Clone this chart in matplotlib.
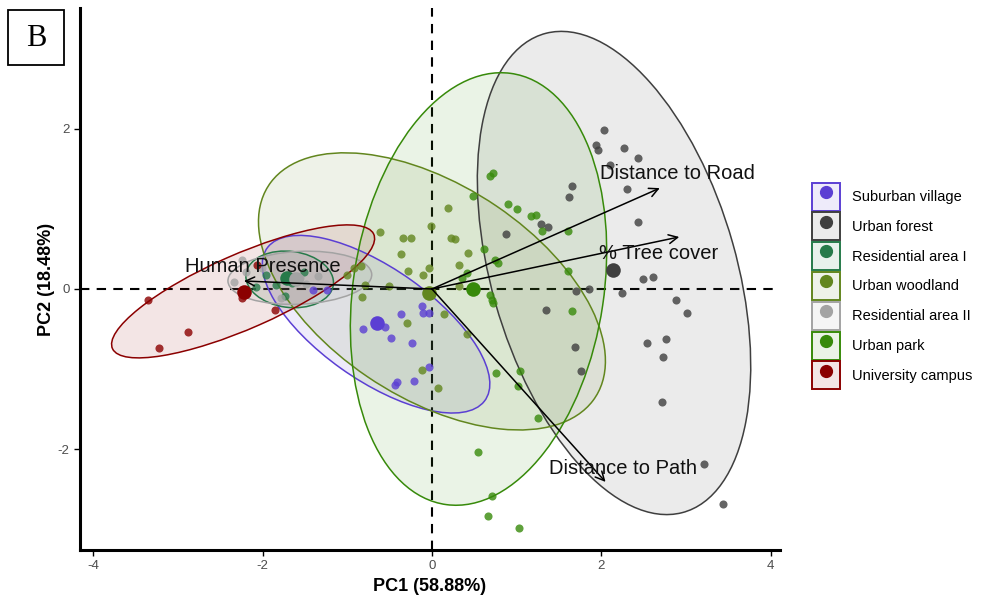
import numpy as np
import matplotlib
matplotlib.use('Agg')
import matplotlib.pyplot as plt
from matplotlib.patches import Ellipse, Rectangle
from matplotlib.lines import Line2D
from matplotlib.legend_handler import HandlerTuple

plt.rcParams['font.family'] = ['Liberation Sans', 'DejaVu Sans']
plt.rcParams['axes.unicode_minus'] = False

groups = ['Suburban village', 'Urban forest', 'Residential area I', 'Urban woodland',
          'Residential area II', 'Urban park', 'University campus']
colors = ['#5B3FD3', '#3F3F3F', '#267A4A', '#62861E', '#A3A3A3', '#378A0A', '#8B0000']

# individual scores (PC1, PC2) per site type
suburban_pc1 = [-0.81, -0.55, -0.37, -0.12, -0.11, -0.04, -0.48, -0.24, -0.04, -0.41, -0.44, -0.21, -1.40, -1.24]
suburban_pc2 = [-0.50, -0.48, -0.31, -0.21, -0.30, -0.30, -0.61, -0.68, -0.98, -1.16, -1.20, -1.15, -0.01, -0.01]

forest_pc1 = [2.03, 1.94, 1.96, 2.27, 2.43, 2.10, 2.30, 2.43, 2.49, 2.61, 1.85, 1.70, 2.24, 2.88, 3.01,
              2.54, 2.76, 2.73, 2.72, 3.21, 3.44, 1.76, 1.65, 1.62, 1.29, 1.37, 0.87, 1.35, 1.69]
forest_pc2 = [1.99, 1.80, 1.73, 1.76, 1.64, 1.55, 1.25, 0.84, 0.13, 0.15, 0.00, -0.03, -0.05, -0.14, -0.30,
              -0.68, -0.63, -0.85, -1.41, -2.18, -2.68, -1.03, 1.29, 1.15, 0.81, 0.78, 0.69, -0.26, -0.73]

res1_pc1 = [-1.96, -1.84, -1.65, -1.51, -1.74, -2.08]
res1_pc2 = [0.18, 0.05, 0.08, 0.21, -0.09, 0.03]

woodland_pc1 = [-0.61, -0.34, -0.25, -0.01, 0.19, 0.22, 0.27, -0.37, 0.43, 0.32, 0.32, -0.04, -0.11,
                -0.28, -0.51, -0.92, -0.84, -1.00, -0.79, -0.83, -0.30, 0.14, 0.41, -0.12, 0.07]
woodland_pc2 = [0.71, 0.64, 0.64, 0.79, 1.01, 0.64, 0.63, 0.44, 0.45, 0.30, 0.04, 0.26, 0.18,
                0.23, 0.04, 0.26, 0.29, 0.18, 0.05, -0.10, -0.43, -0.31, -0.56, -1.01, -1.24]

res2_pc1 = [-2.24, -2.20, -2.01, -1.56, -1.49, -1.35, -1.78, -2.34]
res2_pc2 = [0.36, 0.21, 0.26, 0.14, 0.06, 0.16, -0.11, 0.09]

park_pc1 = [0.68, 0.72, 0.48, 0.90, 1.00, 1.17, 1.23, 1.30, 1.61, 1.61, 0.78, 0.74, 0.61, 0.68, 0.71,
            0.72, 1.65, 0.76, 1.04, 1.02, 1.25, 0.54, 0.71, 0.66, 1.03, 0.41, 0.35]
park_pc2 = [1.41, 1.45, 1.16, 1.06, 1.00, 0.91, 0.93, 0.73, 0.73, 0.23, 0.33, 0.36, 0.50, -0.08, -0.14,
            -0.18, -0.28, -1.05, -1.03, -1.21, -1.61, -2.04, -2.59, -2.84, -2.99, 0.20, 0.14]

campus_pc1 = [-3.35, -2.88, -3.22, -2.24, -1.85, -2.07]
campus_pc2 = [-0.14, -0.54, -0.74, -0.11, -0.26, 0.30]

scores_pc1 = [suburban_pc1, forest_pc1, res1_pc1, woodland_pc1, res2_pc1, park_pc1, campus_pc1]
scores_pc2 = [suburban_pc2, forest_pc2, res1_pc2, woodland_pc2, res2_pc2, park_pc2, campus_pc2]

# group means
centroid_pc1 = [-0.65, 2.14, -1.71, -0.04, -1.60, 0.48, -2.22]
centroid_pc2 = [-0.43, 0.24, 0.14, -0.05, 0.12, 0.00, -0.04]

# concentration ellipses: centre, semi-axes, rotation (deg)
ell_pc1 = [-0.66, 2.15, -1.68, 0.00, -1.56, 0.55, -2.23]
ell_pc2 = [-0.44, 0.20, 0.12, -0.03, 0.14, 0.00, -0.03]
ell_major = [1.60, 3.10, 0.52, 2.34, 0.85, 2.72, 1.70]
ell_minor = [0.69, 1.45, 0.35, 1.31, 0.33, 1.48, 0.46]
ell_angle = [-37, 105, -8, -35.7, 3, 82, 25]

# variable loadings
var_names = ['Human Presence', 'Distance to Road', '% Tree cover', 'Distance to Path']
var_pc1 = [-2.22, 2.69, 2.92, 2.05]
var_pc2 = [0.10, 1.26, 0.65, -2.41]
label_pc1 = [-2.00, 2.90, 2.68, 2.26]
label_pc2 = [0.28, 1.44, 0.44, -2.24]


def main():
    fig = plt.figure(figsize=(9.85, 6.01), dpi=100)
    ax = fig.add_axes([0.0812, 0.0849, 0.7107, 0.9018])

    ax.axhline(0, color='black', lw=1.5, ls=(0, (4.5, 3.5)), zorder=1)
    ax.axvline(0, color='black', lw=1.5, ls=(0, (4.5, 3.5)), zorder=1)

    for i, c in enumerate(colors):
        ax.add_patch(Ellipse((ell_pc1[i], ell_pc2[i]), 2 * ell_major[i], 2 * ell_minor[i],
                             angle=ell_angle[i], facecolor=c, alpha=0.1, edgecolor='none', zorder=2))
        ax.add_patch(Ellipse((ell_pc1[i], ell_pc2[i]), 2 * ell_major[i], 2 * ell_minor[i],
                             angle=ell_angle[i], facecolor='none', edgecolor=c, lw=1.1, zorder=2.1))

    for i, c in enumerate(colors):
        ax.scatter(scores_pc1[i], scores_pc2[i], s=34, color=c, alpha=0.8, lw=0, zorder=3)
        ax.scatter([centroid_pc1[i]], [centroid_pc2[i]], s=110, color=c, lw=0, zorder=4)

    for i, name in enumerate(var_names):
        ax.annotate('', xy=(var_pc1[i], var_pc2[i]), xytext=(0, 0),
                    arrowprops=dict(arrowstyle='->', color='black', lw=1.1,
                                    shrinkA=0, shrinkB=0, mutation_scale=16), zorder=5)
        ax.text(label_pc1[i], label_pc2[i], name, fontsize=14.5, ha='center', va='center',
                color='#111111', zorder=6)

    ax.set_xlim(-4.156, 4.11)
    ax.set_ylim(-3.26, 3.51)
    ax.set_xticks([-4, -2, 0, 2, 4])
    ax.set_yticks([-2, 0, 2])
    ax.tick_params(length=4, width=1, colors='black', labelcolor='#4D4D4D', labelsize=9.5)
    for side in ['top', 'right']:
        ax.spines[side].set_visible(False)
    for side in ['left', 'bottom']:
        ax.spines[side].set_linewidth(2.2)
    ax.set_xlabel('PC1 (58.88%)', fontsize=13, fontweight='bold', labelpad=4)
    ax.set_ylabel('PC2 (18.48%)', fontsize=13, fontweight='bold', labelpad=2)

    handles = []
    for c in colors:
        box = Rectangle((0, 0), 1, 1, facecolor=matplotlib.colors.to_rgba(c, 0.1),
                        edgecolor=c, lw=1.4)
        dot = Line2D([], [], marker='o', ls='none', color=c, markersize=8.5)
        handles.append((box, dot))
    ax.legend(handles, groups, handler_map={tuple: HandlerTuple(ndivide=1)},
              loc='center left', bbox_to_anchor=(1.046, 0.487), frameon=False,
              fontsize=10.5, handlelength=1.9, handleheight=2.58, labelspacing=0.12,
              handletextpad=0.85, borderpad=0, borderaxespad=0)

    fig.add_artist(Rectangle((8 / 985, 1 - 65 / 601), 56 / 985, 55 / 601,
                             transform=fig.transFigure, fill=False, lw=1.3, color='black'))
    fig.text(36 / 985, 1 - 38 / 601, 'B', fontsize=22, family='Liberation Serif',
             ha='center', va='center')

    plt.savefig('out.png', dpi=100)


if __name__ == '__main__':
    main()
